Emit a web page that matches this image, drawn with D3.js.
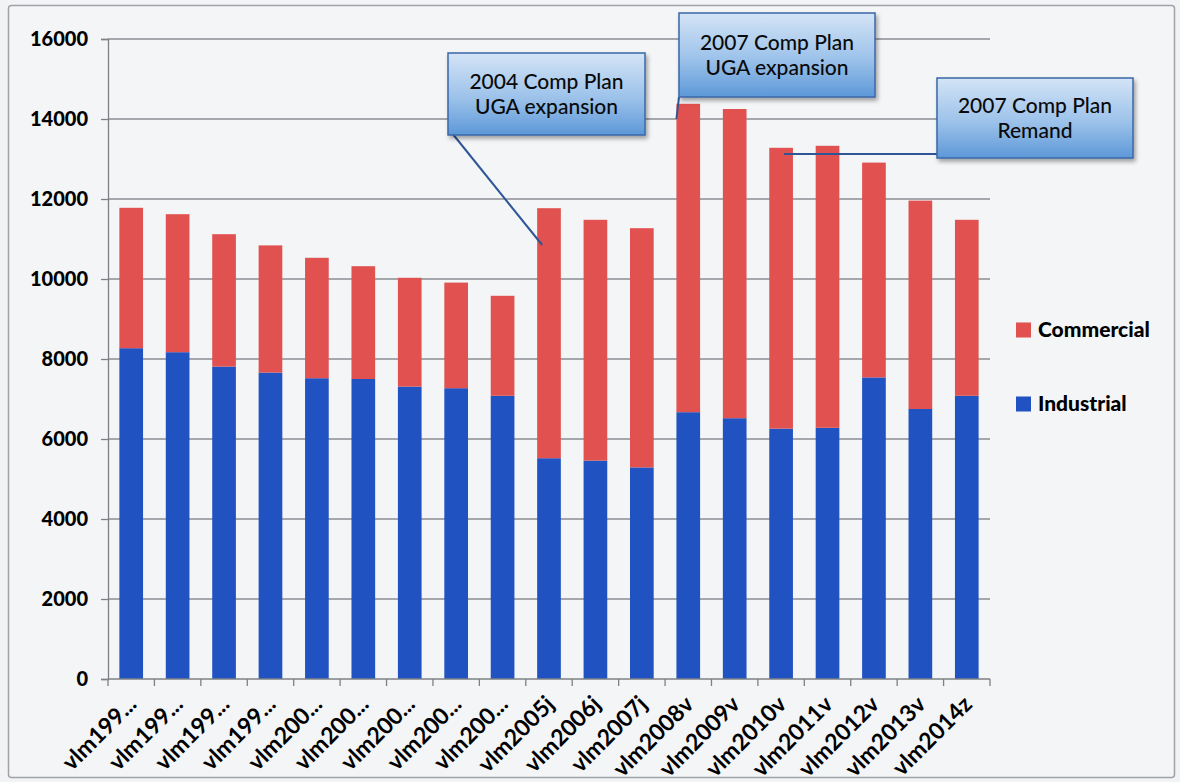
<!DOCTYPE html>
<html>
<head>
<meta charset="utf-8">
<script src="https://cdn.jsdelivr.net/npm/d3@7"></script>
<style>
  body { margin: 0; background: #f1f3f5; }
  svg { display: block; }
  .axis text { font-family: Lato, "Open Sans", sans-serif; font-weight: 900; fill: #000; }
</style>
</head>
<body>
<svg width="1180" height="782"></svg>
<script>
// category labels, as printed (the early ones are truncated in the source)
var labels = ["vlm199...", "vlm199...", "vlm199...", "vlm199...", "vlm200...", "vlm200...", "vlm200...",
  "vlm200...", "vlm200...", "vlm2005j", "vlm2006j", "vlm2007j", "vlm2008v", "vlm2009v", "vlm2010v",
  "vlm2011v", "vlm2012v", "vlm2013v", "vlm2014z"];
var industrial = [8270, 8170, 7810, 7660, 7520, 7500, 7310, 7270, 7080, 5520, 5460, 5290, 6670, 6520, 6260, 6280, 7540, 6750, 7080];
var commercial = [3510, 3450, 3310, 3180, 3010, 2820, 2720, 2640, 2500, 6250, 6020, 5980, 7710, 7730, 7020, 7050, 5370, 5210, 4400];
var yTicks = [0, 2000, 4000, 6000, 8000, 10000, 12000, 14000, 16000];
var seriesNames = ["Commercial", "Industrial"];
var color = { Commercial: "#e0514f", Industrial: "#2152c1" };
// callouts: text lines, and the bar / value the pointer goes to
var callouts = [
  { lines: ["2004 Comp Plan", "UGA expansion"], cat: 9, value: 10850 },
  { lines: ["2007 Comp Plan", "UGA expansion"], cat: 12, value: 14000 },
  { lines: ["2007 Comp Plan", "Remand"], cat: 14, value: 13125 }
];

main();

function main() {
  var svg = d3.select("svg"),
    margin = { top: 39, right: 190, bottom: 103, left: 108 },
    width = +svg.attr("width") - margin.left - margin.right,
    height = +svg.attr("height") - margin.top - margin.bottom;

  // chart frame
  svg.append("rect")
    .attr("x", 8.5).attr("y", 5.5)
    .attr("width", 1166).attr("height", 772)
    .attr("rx", 3)
    .attr("fill", "#f3f5f7")
    .attr("stroke", "#a0a4a8")
    .attr("stroke-width", 1.5);

  var defs = svg.append("defs");
  var grad = defs.append("linearGradient")
    .attr("id", "boxgrad").attr("x1", 0).attr("y1", 0).attr("x2", 0).attr("y2", 1);
  grad.append("stop").attr("offset", "0%").attr("stop-color", "#d4e4f6");
  grad.append("stop").attr("offset", "55%").attr("stop-color", "#9cc2ea");
  grad.append("stop").attr("offset", "100%").attr("stop-color", "#5d98d8");
  var shadow = defs.append("filter").attr("id", "shadow")
    .attr("x", "-10%").attr("y", "-10%").attr("width", "130%").attr("height", "140%");
  shadow.append("feDropShadow")
    .attr("dx", 2).attr("dy", 3).attr("stdDeviation", 2)
    .attr("flood-color", "#000").attr("flood-opacity", 0.35);

  var g = svg.append("g").attr("transform", "translate(" + margin.left + "," + margin.top + ")");

  var x = d3.scaleBand()
    .domain(d3.range(labels.length))
    .range([0, width])
    .paddingInner(0.49)
    .paddingOuter(0.245);

  var y = d3.scaleLinear()
    .domain([0, 16000])
    .range([height, 0]);

  // gridlines
  g.append("g")
    .selectAll("line")
    .data(yTicks.slice(1))
    .enter().append("line")
    .attr("x1", 0).attr("x2", width)
    .attr("y1", function(d) { return y(d); })
    .attr("y2", function(d) { return y(d); })
    .attr("stroke", "#8a8d92")
    .attr("stroke-width", 1.3);

  // stacked bars
  var rows = labels.map(function(l, i) {
    return { i: i, Industrial: industrial[i], Commercial: commercial[i] };
  });
  var stack = d3.stack().keys(["Industrial", "Commercial"])(rows);

  g.selectAll(".series")
    .data(stack)
    .enter().append("g")
    .attr("class", "series")
    .attr("fill", function(d) { return color[d.key]; })
    .selectAll("rect")
    .data(function(d) { return d; })
    .enter().append("rect")
    .attr("x", function(d) { return x(d.data.i); })
    .attr("y", function(d) { return y(d[1]); })
    .attr("width", x.bandwidth())
    .attr("height", function(d) { return y(d[0]) - y(d[1]); });

  // y axis
  var yAxis = g.append("g")
    .attr("class", "axis axis--y")
    .call(d3.axisLeft(y).tickValues(yTicks).tickSize(7).tickPadding(13).tickFormat(d3.format("d")));
  yAxis.selectAll("text").style("font-size", "20px");
  yAxis.selectAll("line, path").attr("stroke", "#7d8085").attr("stroke-width", 1.3);

  // x axis: ticks sit between categories
  var step = x.step();
  var xAxis = g.append("g")
    .attr("class", "axis axis--x")
    .attr("transform", "translate(0," + height + ")");
  xAxis.append("line")
    .attr("x1", 0).attr("x2", width)
    .attr("stroke", "#7d8085").attr("stroke-width", 1.3);
  xAxis.selectAll(".tick")
    .data(d3.range(labels.length + 1))
    .enter().append("line")
    .attr("x1", function(i) { return i * step; })
    .attr("x2", function(i) { return i * step; })
    .attr("y1", 0).attr("y2", 7)
    .attr("stroke", "#7d8085").attr("stroke-width", 1.3);
  xAxis.selectAll("text")
    .data(labels)
    .enter().append("text")
    .attr("transform", function(d, i) {
      return "translate(" + (x(i) + x.bandwidth() / 2 + 1) + ",21) rotate(-45)";
    })
    .attr("text-anchor", "end")
    .attr("dy", "0.35em")
    .style("font-size", "23px")
    .style("font-weight", 700)
    .text(function(d) { return d; });

  // callouts
  var boxes = [
    { x: 448, y: 53, w: 197, h: 82, ax: 452, ay: 133 },
    { x: 679, y: 13, w: 196, h: 84, ax: 679, ay: 97 },
    { x: 937, y: 78, w: 196, h: 80, ax: 937, ay: 154 }
  ];
  var co = svg.append("g").attr("class", "callouts");
  callouts.forEach(function(c, k) {
    var b = boxes[k];
    var tx = margin.left + x(c.cat) + (k === 0 ? 5 : (k === 1 ? 0 : x.bandwidth() / 2 + 3));
    var ty = margin.top + y(c.value);
    var bx = k === 2 ? b.x : b.ax;
    co.append("line")
      .attr("x1", bx).attr("y1", b.ay)
      .attr("x2", tx).attr("y2", ty)
      .attr("stroke", "#2f5597").attr("stroke-width", 2);
    co.append("rect")
      .attr("x", b.x).attr("y", b.y).attr("width", b.w).attr("height", b.h)
      .attr("fill", "url(#boxgrad)")
      .attr("stroke", "#3a67a8").attr("stroke-width", 1.5)
      .attr("filter", "url(#shadow)");
    co.append("text")
      .attr("x", b.x + b.w / 2)
      .attr("y", b.y + b.h / 2)
      .attr("text-anchor", "middle")
      .style("font-family", "Lato, 'Open Sans', sans-serif")
      .style("font-size", "21px")
      .style("font-weight", 500)
      .style("fill", "#0a0a0a")
      .selectAll("tspan")
      .data(c.lines)
      .enter().append("tspan")
      .attr("x", b.x + b.w / 2)
      .attr("dy", function(d, i) { return i === 0 ? "-0.25em" : "1.2em"; })
      .text(function(d) { return d; });
  });

  // legend
  var legend = svg.append("g").attr("class", "legend");
  seriesNames.forEach(function(name, i) {
    var ly = 330 + i * 74;
    legend.append("rect")
      .attr("x", 1016).attr("y", ly - 7.5)
      .attr("width", 15).attr("height", 15)
      .attr("fill", color[name]);
    legend.append("text")
      .attr("x", 1038).attr("y", ly)
      .attr("dy", "0.35em")
      .style("font-family", "Lato, 'Open Sans', sans-serif")
      .style("font-weight", 900)
      .style("font-size", "21px")
      .text(name);
  });
}
</script>
</body>
</html>
